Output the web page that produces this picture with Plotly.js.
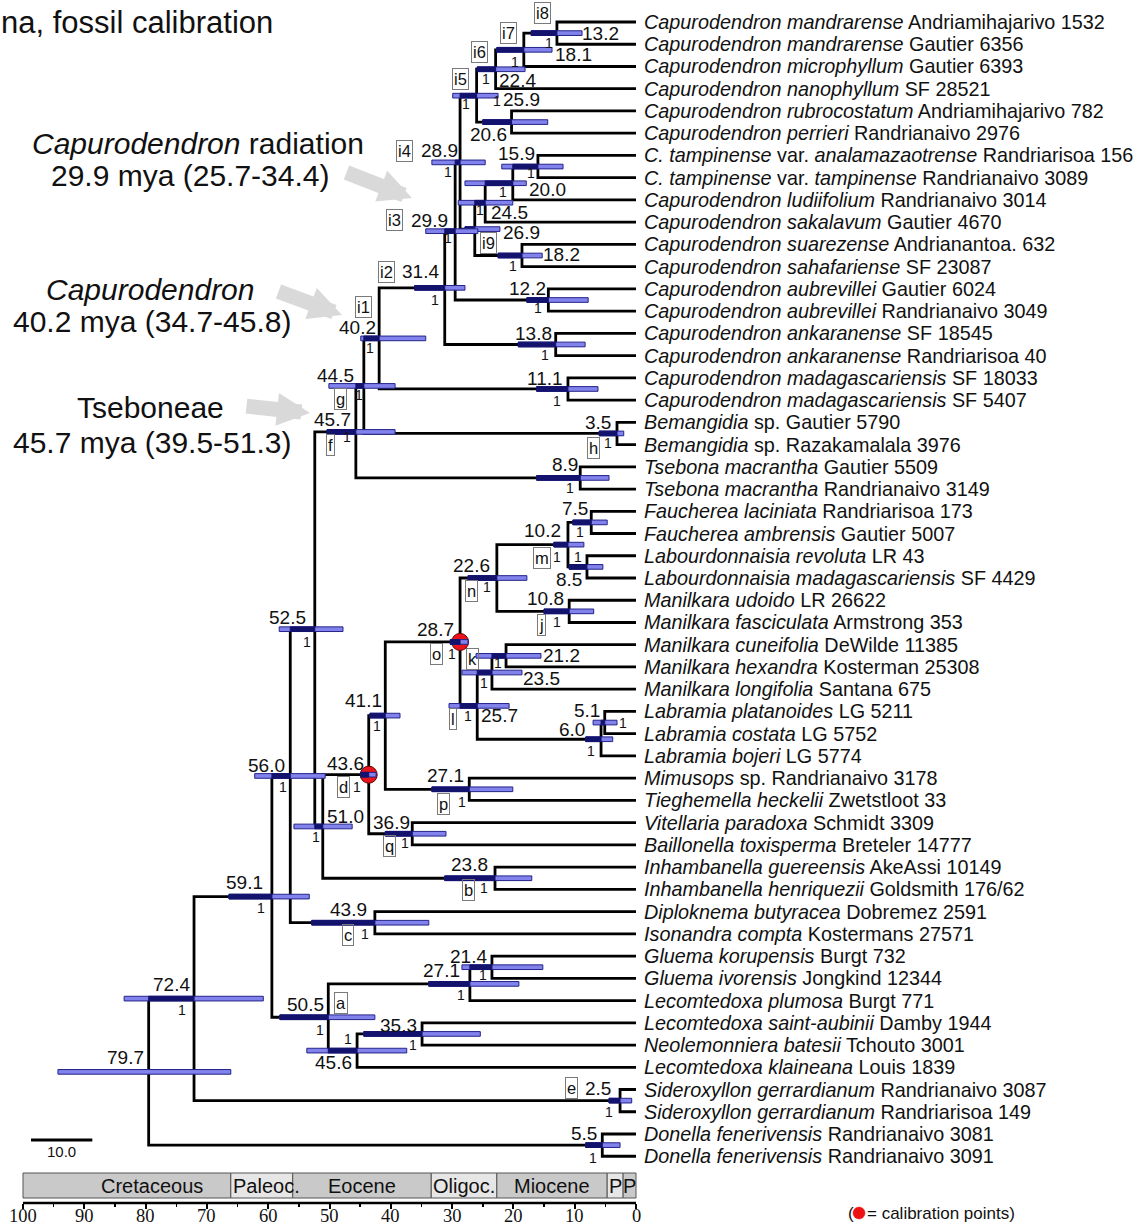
<!DOCTYPE html>
<html>
<head>
<meta charset="utf-8">
<script src="https://cdn.plot.ly/plotly-3.0.1.min.js"></script>
<style>
html,body{margin:0;padding:0;background:#ffffff;}
#chart{width:1144px;height:1224px;}
</style>
</head>
<body>
<div id="chart"></div>
<script>
// ================= DATA =================
const tipTaxa = [
 'Capurodendron mandrarense','Capurodendron mandrarense','Capurodendron microphyllum','Capurodendron nanophyllum',
 'Capurodendron rubrocostatum','Capurodendron perrieri','C. tampinense var. analamazaotrense','C. tampinense var. tampinense',
 'Capurodendron ludiifolium','Capurodendron sakalavum','Capurodendron suarezense','Capurodendron sahafariense',
 'Capurodendron aubrevillei','Capurodendron aubrevillei','Capurodendron ankaranense','Capurodendron ankaranense',
 'Capurodendron madagascariensis','Capurodendron madagascariensis','Bemangidia sp.','Bemangidia sp.',
 'Tsebona macrantha','Tsebona macrantha','Faucherea laciniata','Faucherea ambrensis',
 'Labourdonnaisia revoluta','Labourdonnaisia madagascariensis','Manilkara udoido','Manilkara fasciculata',
 'Manilkara cuneifolia','Manilkara hexandra','Manilkara longifolia','Labramia platanoides',
 'Labramia costata','Labramia bojeri','Mimusops sp.','Tieghemella heckelii',
 'Vitellaria paradoxa','Baillonella toxisperma','Inhambanella guereensis','Inhambanella henriquezii',
 'Diploknema butyracea','Isonandra compta','Gluema korupensis','Gluema ivorensis',
 'Lecomtedoxa plumosa','Lecomtedoxa saint-aubinii','Neolemonniera batesii','Lecomtedoxa klaineana',
 'Sideroxyllon gerrardianum','Sideroxyllon gerrardianum','Donella fenerivensis','Donella fenerivensis'
];
const tipVouchers = [
 'Andriamihajarivo 1532','Gautier 6356','Gautier 6393','SF 28521',
 'Andriamihajarivo 782','Randrianaivo 2976','Randriarisoa 156','Randrianaivo 3089',
 'Randrianaivo 3014','Gautier 4670','Andrianantoa. 632','SF 23087',
 'Gautier 6024','Randrianaivo 3049','SF 18545','Randriarisoa 40',
 'SF 18033','SF 5407','Gautier 5790','Razakamalala 3976',
 'Gautier 5509','Randrianaivo 3149','Randriarisoa 173','Gautier 5007',
 'LR 43','SF 4429','LR 26622','Armstrong 353',
 'DeWilde 11385','Kosterman 25308','Santana 675','LG 5211',
 'LG 5752','LG 5774','Randrianaivo 3178','Zwetstloot 33',
 'Schmidt 3309','Breteler 14777','AkeAssi 10149','Goldsmith 176/62',
 'Dobremez 2591','Kostermans 27571','Burgt 732','Jongkind 12344',
 'Burgt 771','Damby 1944','Tchouto 3001','Louis 1839',
 'Randrianaivo 3087','Randriarisoa 149','Randrianaivo 3081','Randrianaivo 3091'
];

// internal nodes (children listed before parents)
const nodeIds = ['i8','i7','i6','A','i5','B','C','D','E','i9','i4','F','i3','G','i2','H','i1','I','g','J','f',
 'P75','P85','m','j','n','k','K','L51','L60','l','o','p','P41','q','d','b','P51','P52','c','P56',
 'P214','P271','P353','P456','a','P591','e','P724','Don','root'];
const childA = ['t1','i8','i7','t5','i6','t7','B','C','t11','D','i5','t13','i4','t15','i3','t17','i2','t19','i1','t21','g',
 't23','t25','P75','t27','m','t29','k','t32','L51','K','n','t35','o','t37','P41','t39','d','f','t41','P52',
 't43','P214','t46','P353','P271','P56','t49','P591','t51','P724'];
const childB = ['t2','t3','t4','t6','A','t8','t9','t10','t12','E','i9','t14','F','t16','G','t18','H','t20','I','t22','J',
 't24','t26','P85','t28','j','t30','t31','t33','t34','L60','l','t36','p','t38','q','t40','b','P51','t42','c',
 't44','t45','t47','t48','P456','a','t50','e','t52','Don'];
// drawn node heights (mya)
const nodeAges = [12.9,18.3,22.9,20.3,26.0,16.0,20.1,24.6,18.6,26.3,28.7,14.3,29.5,13.1,31.2,11.1,41.9,3.1,44.4,9.1,45.7,
 7.3,8.0,11.1,10.9,22.7,21.2,23.5,5.1,5.7,25.9,28.7,27.2,40.9,36.5,43.6,23.0,51.1,52.4,42.6,56.4,
 23.5,27.1,34.9,45.5,50.2,59.4,2.6,72.1,5.5,79.5];
// 95% HPD interval bars (mya)
const hpdOld = [17.1,22.7,25.9,25.0,29.9,21.9,27.9,29.0,22.5,27.9,33.3,17.8,34.3,19.2,36.1,16.2,44.9,6.0,50.1,16.2,50.4,
 10.3,10.9,13.4,15.0,27.4,26.1,28.4,7.0,8.2,30.5,30.3,33.3,43.4,40.9,44.9,31.2,55.8,58.2,52.9,62.2,
 28.4,33.8,44.4,53.7,58.1,66.4,4.4,83.5,8.2,94.3];
const hpdYoung = [8.8,13.7,18.1,14.4,22.5,11.9,17.9,20.1,15.3,22.2,24.6,7.8,25.8,8.3,27.9,6.2,34.3,2.0,39.3,4.4,39.3,
 4.7,5.4,8.5,6.9,17.8,15.5,18.6,3.1,3.8,20.7,27.4,20.1,38.5,31.0,42.4,17.0,46.3,47.8,33.8,50.7,
 15.2,19.1,25.4,37.4,42.6,53.3,0.7,60.8,2.6,66.1];
const ageLabels = ['13.2','18.1','22.4','20.6','25.9','15.9','20.0','24.5','18.2','26.9','28.9','12.2','29.9','13.8','31.4','11.1','40.2','3.5','44.5','8.9','45.7',
 '7.5','8.5','10.2','10.8','22.6','21.2','23.5','5.1','6.0','25.7','28.7','27.1','41.1','36.9','43.6','23.8','51.0','52.5','43.9','56.0',
 '21.4','27.1','35.3','45.6','50.5','59.1','2.5','72.4','5.5','79.7'];
const posteriors = ['1','1','1','1','1','1','1','1','1','','1','1','1','1','1','1','1','1','1','1','1',
 '1','1','1','1','1','1','1','1','1','1','1','1','1','1','1','1','1','1','1','1',
 '1','1','1','1','1','1','1','1','1',''];
const cladeTags = ['i8','i7','i6','','i5','','','','','i9','i4','','i3','','i2','','i1','h','g','','f',
 '','','m','j','n','k','','','','l','o','p','','q','d','b','','','c','',
 '','','','','a','','e','','',''];
const calibrationNodes = ['o','d'];

const epochNames = ['Cretaceous','Paleoc.','Eocene','Oligoc.','Miocene','P','P'];
const epochStart = [100, 66.1, 56.0, 33.4, 22.7, 4.7, 2.1];
const epochEnd   = [66.1, 56.0, 33.4, 22.7, 4.7, 2.1, 0];
const timeTicks  = [100,90,80,70,60,50,40,30,20,10,0];
const minorTicks = [95,85,75,65,55,45,35,25,15,5];
const scaleBarLength = 10.0;

// ================= LAYOUT HELPERS (pixel geometry) =================
const W = 1144, PLOT_H = 1203;
const PX0 = 636, PXPER = 6.13, ROW0 = 22, ROWH = 22.24;
const X = px => (PX0 - px) / PXPER;      // pixel x -> mya
const Y = py => (py - ROW0) / ROWH;      // pixel y -> row
const PXp = px => px / W;                // pixel x -> paper
const PYp = py => (PLOT_H - py) / PLOT_H;// pixel y -> paper

// label placement offsets in px relative to node [dx, dy]
const place = {
 i8:{lab:[44,0],tag:[-14,-20],post:[-8,10]}, i7:{lab:[50,5],tag:[-15,-17],post:[-9,12]},
 i6:{lab:[22,11],tag:[-16,-17],post:[-10,10]}, A:{lab:[-23,12],post:[-15,-21]},
 i5:{lab:[45,4],tag:[-16,-17],post:[-11,8]}, B:{lab:[-21,-13],post:[-7,6]},
 C:{lab:[35,6],post:[-10,9]}, D:{lab:[24,10],post:[-5,7]}, E:{lab:[40,-1],post:[-9,10]},
 i9:{lab:[47,3],tag:[14,14]}, i4:{lab:[-21,-12],tag:[-56,-11],post:[-12,10]},
 F:{lab:[-21,-12],post:[-10,8]}, i3:{lab:[-26,-11],tag:[-61,-11],post:[-7,7]},
 G:{lab:[-22,-11],post:[-11,11]}, i2:{lab:[-24,-16],tag:[-58,-16],post:[-10,12]},
 H:{lab:[-23,-10],post:[-11,12]}, i1:{lab:[-22,-11],tag:[-16,-31],post:[-9,10]},
 I:{lab:[-19,-11],tag:[-24,15],post:[-9,10]}, g:{lab:[-28,-10],tag:[-23,13],post:[-5,9]},
 J:{lab:[-15,-13],post:[-10,10]}, f:{lab:[-23,-12],tag:[-25,13],post:[-9,5]},
 P75:{lab:[-16,-14],post:[-11,10]}, P85:{lab:[-18,13],post:[-9,-10]},
 m:{lab:[-25,-14],tag:[-26,13],post:[-11,12]}, j:{lab:[-24,-13],tag:[-28,14],post:[-12,11]},
 n:{lab:[-25,-13],tag:[-25,13],post:[-10,9]}, k:{lab:[55,0],tag:[-34,3],post:[-8,7]},
 K:{lab:[50,6],post:[-8,10]}, L51:{lab:[-18,-12],post:[18,0]}, L60:{lab:[-29,-10],post:[-10,12]},
 l:{lab:[22,10],tag:[-24,13],post:[-9,10]}, o:{lab:[-25,-12],tag:[-24,12],post:[-8,12]},
 p:{lab:[-24,-14],tag:[-26,15],post:[-7,13]}, P41:{lab:[-22,-15],post:[-8,10]},
 q:{lab:[-21,-11],tag:[-23,12],post:[-7,9]}, d:{lab:[-23,-11],tag:[-25.5,12],post:[-12,12]},
 b:{lab:[-26,-14],tag:[-27,12],post:[-11,10]}, P51:{lab:[23,-10],post:[-7,11]},
 P52:{lab:[-27,-12],post:[-8,13]}, c:{lab:[-26,-13],tag:[-27,12],post:[-10,11]},
 P56:{lab:[-24,-10],post:[-7,11]}, P214:{lab:[-23,-11],post:[-9,8]},
 P271:{lab:[-28,-13],post:[-9,11]}, P353:{lab:[-24,-8],post:[-9,11]},
 P456:{lab:[-24,12],post:[-9,-12]}, a:{lab:[-23,-13],tag:[13,-14],post:[-8,13]},
 P591:{lab:[-27,-14],post:[-11,11]}, e:{lab:[-22,-12],tag:[-49,-13],post:[-11,11]},
 P724:{lab:[-23,-14],post:[-12,11]}, Don:{lab:[-18,-12],post:[-9,13]}, root:{lab:[-23,-14]}
};

const FONT = 'Liberation Sans, Arial, Helvetica, sans-serif';
const SERIF = 'Liberation Serif, Times New Roman, serif';
const INK = '#111111';
const BAR_FILL = '#8282ec', BAR_EDGE = '#24248a', BAR_DARK = '#13136e';
const BAR_H = 0.105;

// ================= TREE GEOMETRY =================
const pos = {};
tipTaxa.forEach((t, i) => { pos['t' + (i + 1)] = {age: 0, y: i}; });
const parentAge = {};
nodeIds.forEach((id, i) => {
  const a = pos[childA[i]], b = pos[childB[i]];
  pos[id] = {age: nodeAges[i], y: (a.y + b.y) / 2};
  parentAge[childA[i]] = nodeAges[i];
  parentAge[childB[i]] = nodeAges[i];
});

const bx = [], by = [];
nodeIds.forEach((id, i) => {
  const a = pos[childA[i]], b = pos[childB[i]], n = pos[id];
  bx.push(a.age, n.age, n.age, b.age, null);
  by.push(a.y, a.y, b.y, b.y, null);
});

const traces = [];
traces.push({type:'scatter', mode:'lines', x:bx, y:by, hoverinfo:'skip',
  line:{color:'#000000', width:2.8}});
traces.push({type:'scatter', mode:'markers', hoverinfo:'skip',
  x: calibrationNodes.map(id => pos[id].age), y: calibrationNodes.map(id => pos[id].y),
  marker:{size:17, color:'#e8141c', line:{color:'#6a0000', width:1}}});

// ================= SHAPES =================
const shapes = [];
// geological timescale
epochNames.forEach((nm, i) => {
  shapes.push({type:'rect', xref:'x', yref:'y', x0:epochStart[i], x1:epochEnd[i], y0:Y(1173), y1:Y(1198),
    fillcolor: (i % 2 === 0) ? '#c9c9c9' : '#e6e6e6', line:{color:'#555555', width:1}, layer:'below'});
});
// HPD bars
nodeIds.forEach((id, i) => {
  const n = pos[id];
  shapes.push({type:'rect', xref:'x', yref:'y', x0:hpdOld[i], x1:hpdYoung[i], y0:n.y - BAR_H, y1:n.y + BAR_H,
    fillcolor:BAR_FILL, line:{color:BAR_EDGE, width:1}, layer:'above'});
  if (parentAge[id] !== undefined) {
    const left = Math.min(hpdOld[i], parentAge[id]);
    if (left > nodeAges[i]) {
      shapes.push({type:'rect', xref:'x', yref:'y', x0:left, x1:nodeAges[i], y0:n.y - BAR_H, y1:n.y + BAR_H,
        fillcolor:BAR_DARK, line:{color:BAR_DARK, width:1}, layer:'above'});
    }
  }
});
// scale bar
shapes.push({type:'line', xref:'x', yref:'y', x0:X(31), x1:X(31) - scaleBarLength, y0:Y(1140), y1:Y(1140),
  line:{color:'#000', width:3}});
// time ruler
shapes.push({type:'line', xref:'x', yref:'paper', x0:timeTicks[0], x1:timeTicks[timeTicks.length-1], y0:0, y1:0,
  line:{color:'#000', width:2.5}});
// calibration legend dot
shapes.push({type:'circle', xref:'paper', yref:'paper', x0:PXp(853), x1:PXp(865), y0:PYp(1219), y1:PYp(1207),
  fillcolor:'#ee1111', line:{color:'#ee1111', width:0.5}});

// ================= ANNOTATIONS =================
const anns = [];
function ann(x, y, text, size, extra) {
  return Object.assign({x:x, y:y, xref:'x', yref:'y', text:text, showarrow:false,
    font:{family:FONT, size:size, color:INK}, xanchor:'center', yanchor:'middle'}, extra || {});
}
function pann(px, py, text, size, extra) {
  return Object.assign({x:PXp(px), y:PYp(py), xref:'paper', yref:'paper', text:text, showarrow:false,
    font:{family:FONT, size:size, color:INK}, xanchor:'center', yanchor:'middle'}, extra || {});
}
function fmtTaxon(t) {
  return t.split(' ').map(w => (w === 'var.' || w === 'sp.') ? w : '<i>' + w + '</i>').join(' ');
}
// tip labels
tipTaxa.forEach((t, i) => {
  anns.push(ann(0, i, fmtTaxon(t) + ' ' + tipVouchers[i], 19.8, {xanchor:'left', xshift:6}));
});
// node labels
nodeIds.forEach((id, i) => {
  const n = pos[id], pl = place[id] || {};
  if (pl.lab) anns.push(ann(n.age, n.y, ageLabels[i], 19, {xshift:pl.lab[0], yshift:-pl.lab[1]}));
  if (posteriors[i] && pl.post) anns.push(ann(n.age, n.y, posteriors[i], 14, {xshift:pl.post[0], yshift:-pl.post[1]}));
  if (cladeTags[i] && pl.tag) anns.push(ann(n.age, n.y, cladeTags[i], 16.5,
    {xshift:pl.tag[0], yshift:-pl.tag[1], bordercolor:'#7a7a7a', borderwidth:1, borderpad:1}));
});
// epoch names
const epochLabelPx = [[152,'center'],[231,'left'],[null,'center'],[null,'center'],[null,'center'],[null,'center'],[null,'center']];
epochNames.forEach((nm, i) => {
  const xp = epochLabelPx[i][0];
  const xv = xp === null ? (epochStart[i] + epochEnd[i]) / 2 : X(xp);
  anns.push(ann(xv, Y(1185.5), nm, 20, {xanchor:epochLabelPx[i][1]}));
});
// time ruler labels
timeTicks.forEach(t => {
  anns.push(pann(PX0 - t * PXPER, 1215.5, String(t), 18.5, {font:{family:SERIF, size:18.5, color:INK}, borderpad:0}));
});
// scale bar label
anns.push(ann(X(61), Y(1151), scaleBarLength.toFixed(1), 15));
// title fragment
anns.push(pann(-1, 22, 'na, fossil calibration', 31, {xanchor:'left'}));
// side notes
anns.push(ann(X(198), Y(143), '<i>Capurodendron</i> radiation', 30));
anns.push(ann(X(190), Y(175), '29.9 mya (25.7-34.4)', 30));
anns.push(ann(X(150), Y(289), '<i>Capurodendron</i>', 30));
anns.push(ann(X(152), Y(321), '40.2 mya (34.7-45.8)', 30));
anns.push(ann(X(150), Y(407), 'Tseboneae', 30));
anns.push(ann(X(152), Y(442), '45.7 mya (39.5-51.3)', 30));
// arrows
[[412,198,-67,-26],[342,315,-65,-24],[310,413,-65,-7]].forEach(a => {
  anns.push({x:X(a[0]), y:Y(a[1]), xref:'x', yref:'y', text:'', showarrow:true, ax:a[2], ay:a[3],
    arrowhead:2, arrowsize:0.44, arrowwidth:15, arrowcolor:'#d9d9d9', standoff:0, startstandoff:0});
});
// calibration legend
anns.push(pann(846, 1213, '(', 17, {xanchor:'left'}));
anns.push(pann(865, 1213, '= calibration points)', 17, {xanchor:'left'}));

const layout = {
  width:1144, height:1224,
  margin:{l:0, r:0, t:0, b:1224 - PLOT_H, pad:0},
  paper_bgcolor:'#ffffff', plot_bgcolor:'#ffffff',
  showlegend:false,
  font:{family:FONT, color:INK},
  xaxis:{range:[X(0), X(1144)], tickmode:'array', tickvals:timeTicks, showticklabels:false,
    ticks:'outside', ticklen:5, tickwidth:2, tickcolor:'#000', showgrid:false, zeroline:false, showline:false,
    minor:{tickmode:'array', tickvals:minorTicks, ticks:'outside', ticklen:3, tickwidth:1.5, tickcolor:'#000', showgrid:false},
    fixedrange:true},
  yaxis:{range:[Y(PLOT_H), Y(0)], visible:false, fixedrange:true},
  shapes:shapes,
  annotations:anns
};

Plotly.newPlot('chart', traces, layout, {displayModeBar:false, staticPlot:true});
</script>
</body>
</html>
